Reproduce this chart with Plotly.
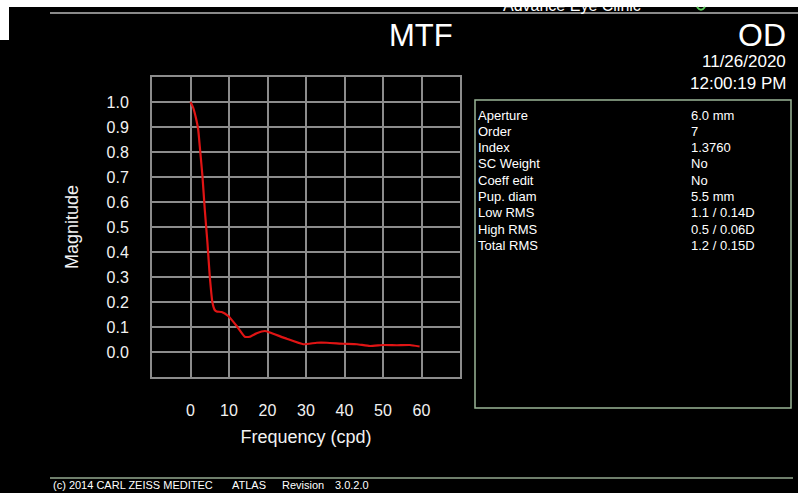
import plotly.graph_objects as go

# MTF curve: spatial frequency (cycles per degree) vs. modulation magnitude
freq_cpd = [0, 0.7, 1.5, 2.0, 2.4, 3.1, 3.7, 4.4, 5.0, 5.7, 6.3, 6.8, 8.1, 9.8,
            12.0, 14.1, 15.4, 17.2, 19.3, 20.6, 25.0, 29.3, 32.8, 35.4, 39.7,
            43.2, 46.6, 50.1, 53.6, 57.0, 59.5]
magnitude = [1.0, 0.977, 0.93, 0.89, 0.824, 0.704, 0.571, 0.437, 0.304, 0.198,
             0.168, 0.162, 0.16, 0.144, 0.104, 0.061, 0.061, 0.075, 0.084, 0.078,
             0.053, 0.031, 0.037, 0.037, 0.033, 0.031, 0.024, 0.028, 0.027,
             0.028, 0.022]

x_ticks = [0, 10, 20, 30, 40, 50, 60]
y_ticks = [0.0, 0.1, 0.2, 0.3, 0.4, 0.5, 0.6, 0.7, 0.8, 0.9, 1.0]
y_tick_text = [f"{v:.1f}" for v in y_ticks]

# Exam parameters shown in the side panel
param_names = ["Aperture", "Order", "Index", "SC Weight", "Coeff edit",
               "Pup. diam", "Low RMS", "High RMS", "Total RMS"]
param_values = ["6.0 mm", "7", "1.3760", "No", "No", "5.5 mm",
                "1.1 / 0.14D", "0.5 / 0.06D", "1.2 / 0.15D"]

eye = "OD"
exam_date = "11/26/2020"
exam_time = "12:00:19 PM"
clinic = "Advance Eye Clinic"
footer = ["(c) 2014 CARL ZEISS MEDITEC", "ATLAS", "Revision", "3.0.2.0"]

W, H = 798, 493
L, R, T, B = 152, 460, 77, 377  # plot area in page pixels
FONT = "Liberation Sans, Arial, sans-serif"


def px(x):
    return (x - L) / (R - L)


def py(y):
    return (B - y) / (B - T)


fig = go.Figure()
fig.add_trace(go.Scatter(
    x=freq_cpd, y=magnitude, mode="lines",
    line=dict(color="#e01414", width=2.2, shape="spline", smoothing=0.4),
    hoverinfo="skip", showlegend=False,
))

axis_common = dict(
    showgrid=True, gridcolor="#8c8c8c", gridwidth=1.5,
    showline=True, linecolor="#8c8c8c", linewidth=2, mirror=True,
    zeroline=False, ticks="outside", ticklen=18, tickcolor="rgba(0,0,0,0)",
    tickfont=dict(family=FONT, size=16, color="#f2f2f2"),
    fixedrange=True,
)

fig.update_xaxes(
    range=[-10, 70], tickvals=x_ticks,
    title=dict(text="Frequency (cpd)", font=dict(family=FONT, size=18, color="#f2f2f2"),
               standoff=12),
    **axis_common,
)
fig.update_yaxes(
    range=[-0.1, 1.1], tickvals=y_ticks, ticktext=y_tick_text,
    title=dict(text="Magnitude", font=dict(family=FONT, size=18, color="#f2f2f2"),
               standoff=23),
    **axis_common,
)

annotations = []


def label(text, x, y, size, xanchor="left", color="#ffffff"):
    annotations.append(dict(
        text=text, x=px(x), y=py(y), xref="paper", yref="paper",
        xanchor=xanchor, yanchor="middle", showarrow=False,
        font=dict(family=FONT, size=size, color=color),
    ))


label(clinic, 572, 5, 16, xanchor="center")
label("MTF", 421, 35, 31, xanchor="center")
label(eye, 788, 35, 32, xanchor="right")
label(exam_date, 788, 62, 17, xanchor="right")
label(exam_time, 788, 83, 17, xanchor="right")

for i, (name, val) in enumerate(zip(param_names, param_values)):
    yy = 115 + 16.3 * i
    label(name, 476, yy, 13)
    label(val, 689, yy, 13)

label(footer[0], 51, 485, 11)
label(footer[1], 230, 485, 11)
label(footer[2], 280, 485, 11)
label(footer[3], 333, 485, 11)

shapes = [
    # white border of the captured page
    dict(type="rect", xref="paper", yref="paper", x0=px(0), x1=px(W), y0=py(0), y1=py(7),
         fillcolor="#ffffff", line=dict(width=0), layer="above"),
    dict(type="rect", xref="paper", yref="paper", x0=px(0), x1=px(9), y0=py(0), y1=py(40),
         fillcolor="#ffffff", line=dict(width=0), layer="above"),
    # header and footer rules
    dict(type="line", xref="paper", yref="paper", x0=px(50), x1=px(W), y0=py(13), y1=py(13),
         line=dict(color="#8a8a8a", width=2)),
    dict(type="line", xref="paper", yref="paper", x0=px(50), x1=px(793), y0=py(478), y1=py(478),
         line=dict(color="#6f7f6c", width=2)),
    # parameter panel frame
    dict(type="rect", xref="paper", yref="paper", x0=px(475), x1=px(791), y0=py(100), y1=py(408),
         line=dict(color="#9ab596", width=1.5), fillcolor="rgba(0,0,0,0)"),
    # clinic logo edge
    dict(type="path", xref="paper", yref="paper",
         path=f"M {px(697)},{py(7)} Q {px(701)},{py(12.5)} {px(705)},{py(7)}",
         line=dict(color="#5fcf5f", width=2)),
]

fig.update_layout(
    width=W, height=H,
    margin=dict(l=L, r=W - R, t=T, b=H - B, pad=0),
    paper_bgcolor="#000000", plot_bgcolor="#000000",
    annotations=annotations, shapes=shapes,
    showlegend=False,
)

fig.write_html("out.html", config={"displayModeBar": False})
